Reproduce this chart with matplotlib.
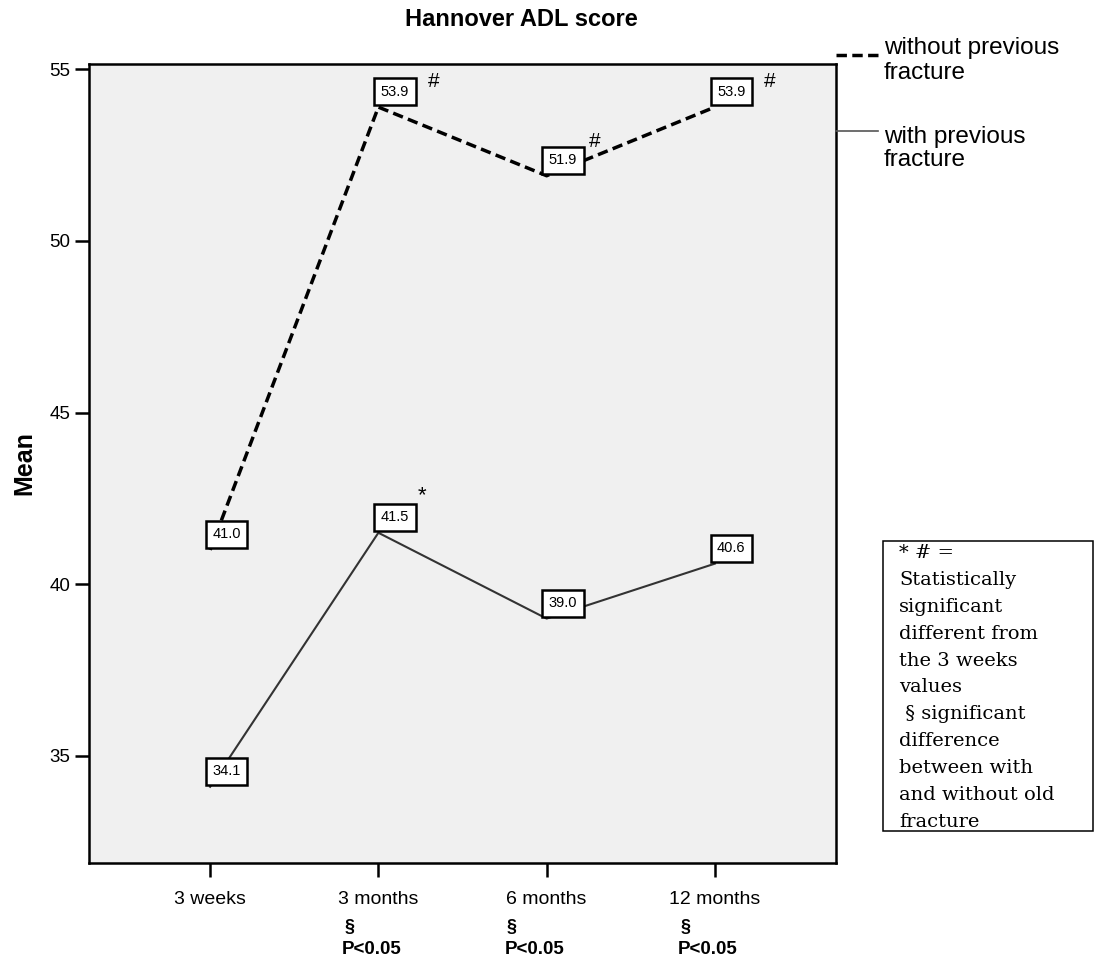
import matplotlib
matplotlib.use('Agg')
import matplotlib.pyplot as plt
from matplotlib.patches import Rectangle
from matplotlib.lines import Line2D

# ---------------- data ----------------
categories = ['3 weeks', '3 months', '6 months', '12 months']
without_prev = [41.0, 53.9, 51.9, 53.9]
with_prev = [34.1, 41.5, 39.0, 40.6]
without_marks = ['', '#', '#', '#']
with_marks = ['', '*', '', '']
sig_between = [False, True, True, True]
sig_text = 'P<0.05'
yticks = [35, 40, 45, 50, 55]
ylim = (31.88, 55.155)
series_names = ['without previous\nfracture', 'with previous\nfracture']
title = 'Hannover ADL score'
ylabel = 'Mean'
note_lines = ['* # =', 'Statistically', 'significant', 'different from',
              'the 3 weeks', 'values', ' § significant', 'difference',
              'between with', 'and without old', 'fracture']

plt.rcParams['font.family'] = ['Liberation Sans', 'DejaVu Sans']

W, H = 1096, 963
fig = plt.figure(figsize=(W / 100, H / 100), dpi=100)
fig.patch.set_facecolor('white')


def fx(px):
    return px / W


def fy(py):
    return 1 - py / H


px2pt = 0.72
ax_l, ax_r, ax_t, ax_b = 89, 836, 64, 863
ax = fig.add_axes([fx(ax_l), fy(ax_b), (ax_r - ax_l) / W, (ax_b - ax_t) / H])
ax.set_facecolor('#f0f0f0')

dash = (0, (3.0, 1.55))
x = list(range(len(categories)))
ax.plot(x, without_prev, color='black', lw=2.5, ls=dash,
        dash_capstyle='butt', zorder=3)
ax.plot(x, with_prev, color='#333333', lw=1.5, zorder=3)

ax.set_xlim(-0.72, len(categories) - 1 + 0.72)
ax.set_ylim(*ylim)
ax.set_xticks(x)
ax.set_xticklabels(categories, fontsize=14)
ax.set_yticks(yticks)
ax.set_yticklabels([str(t) for t in yticks], fontsize=13.5)
ax.tick_params(axis='x', length=10, width=1.8, pad=10.5, direction='out')
ax.tick_params(axis='y', length=10, width=1.8, pad=3.6, direction='out')
for s in ax.spines.values():
    s.set_linewidth(1.8)
    s.set_color('black')

# value boxes (bottom-left corner at the data point)
for series in (without_prev, with_prev):
    for i, v in enumerate(series):
        ax.annotate(f'{v:.1f}', xy=(i, v), xytext=(16.5 * px2pt, 15.5 * px2pt),
                    textcoords='offset points', ha='center', va='center',
                    fontsize=10.5, zorder=6,
                    bbox=dict(boxstyle='square,pad=0.45', fc='white',
                              ec='black', lw=1.8))

# significance marks
hash_offsets = {1: (55, 26), 2: (48, 34), 3: (55, 26)}
for i, m in enumerate(without_marks):
    if m:
        dx, dy = hash_offsets[i]
        ax.annotate(m, xy=(i, without_prev[i]), xytext=(dx * px2pt, dy * px2pt),
                    textcoords='offset points', ha='center', va='center',
                    fontsize=15, zorder=6)
for i, m in enumerate(with_marks):
    if m:
        ax.annotate(m, xy=(i, with_prev[i]), xytext=(44 * px2pt, 37 * px2pt),
                    textcoords='offset points', ha='center', va='center',
                    fontsize=16, zorder=6)

# between-group significance under the x labels
xtr = ax.get_xaxis_transform()
sect_dx = [0, -29, -35, -29]
p_dx = [0, -7, -12, -7]
for i, s in enumerate(sig_between):
    if s:
        ax.annotate('§', xy=(i, 0), xycoords=xtr,
                    xytext=(sect_dx[i] * px2pt, -64 * px2pt), textcoords='offset points',
                    ha='center', va='center', fontsize=13, fontweight='bold',
                    annotation_clip=False)
        ax.annotate(sig_text, xy=(i, 0), xycoords=xtr,
                    xytext=(p_dx[i] * px2pt, -86 * px2pt), textcoords='offset points',
                    ha='center', va='center', fontsize=13.5, fontweight='bold',
                    annotation_clip=False)

# title and y label
fig.text(fx(521), fy(20), title, ha='center', va='center',
         fontsize=17, fontweight='bold')
fig.text(fx(24), fy((ax_t + ax_b) / 2), ylabel, ha='center', va='center',
         rotation=90, fontsize=18, fontweight='bold')

# legend (outside, top right)
leg_y = [55, 131]
leg_text_y = [(48, 73), (137, 160)]
leg_styles = [dict(color='black', lw=2.5, ls=dash, dash_capstyle='butt'),
              dict(color='#555555', lw=1.2, ls='-')]
for name, ly, ty, st in zip(series_names, leg_y, leg_text_y, leg_styles):
    fig.add_artist(Line2D([fx(836), fx(878)], [fy(ly), fy(ly)],
                          transform=fig.transFigure, **st))
    for ln, yy in zip(name.split('\n'), ty):
        fig.text(fx(884), fy(yy), ln, ha='left', va='center', fontsize=17.5)

# note box
fig.add_artist(Rectangle((fx(883), fy(831)), (1093 - 883) / W, (831 - 541) / H,
                         transform=fig.transFigure, fc='white', ec='black',
                         lw=1.1))
for k, ln in enumerate(note_lines):
    fig.text(fx(899), fy(553 + 26.9 * k), ln, ha='left', va='center',
             fontsize=14, family=['DejaVu Serif', 'DejaVu Sans'])

fig.savefig('out.png', dpi=100)
